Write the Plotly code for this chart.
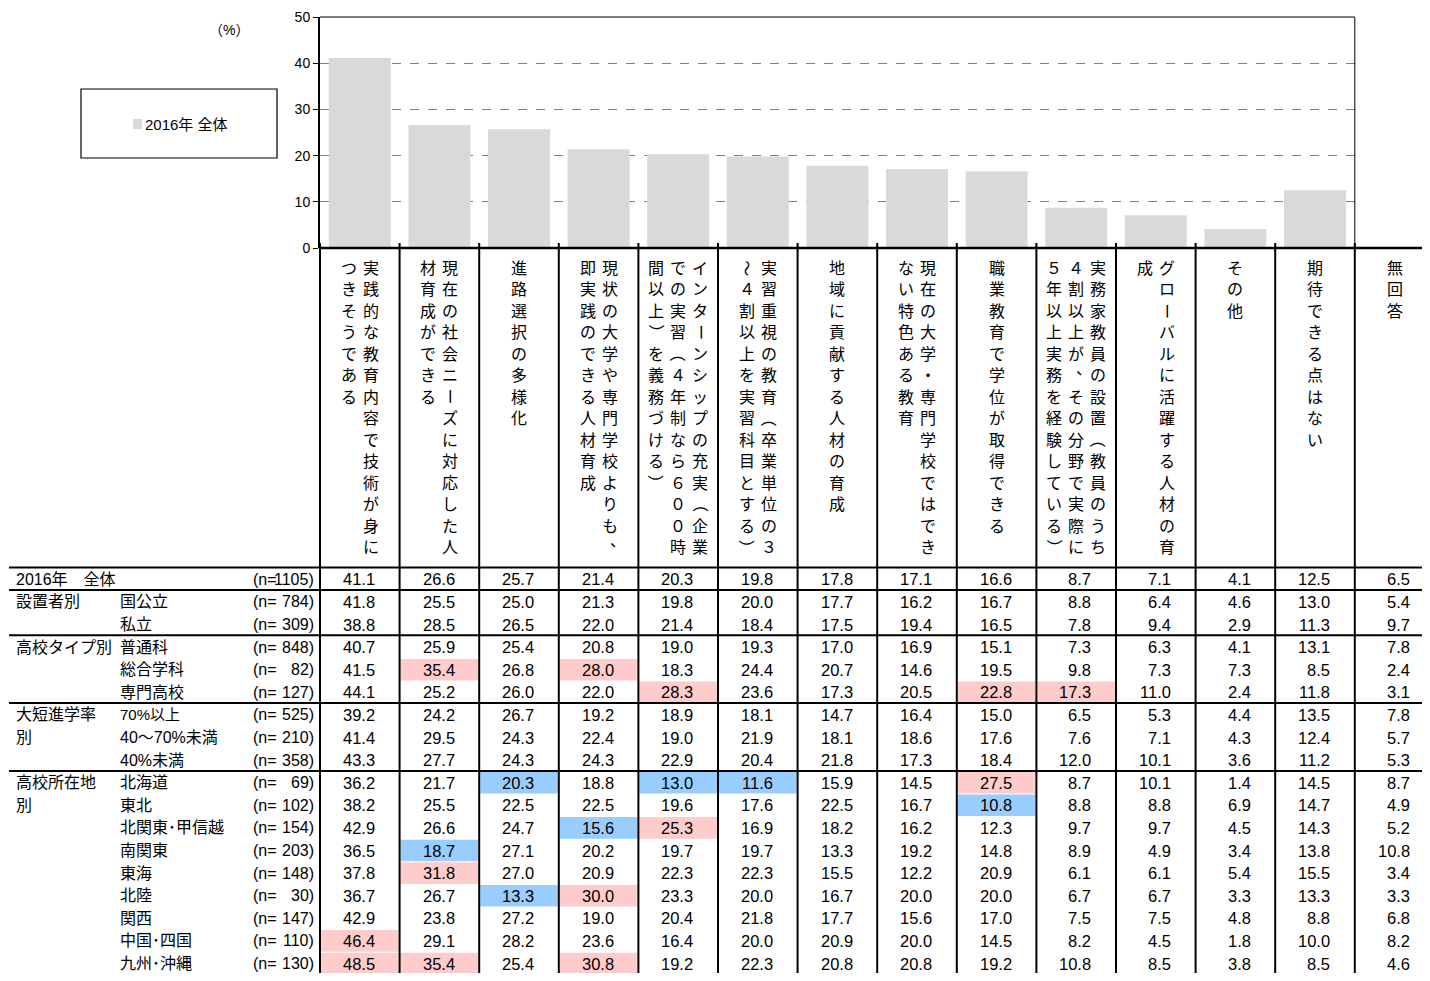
import plotly.graph_objects as go

# ---------------- data ----------------
categories = [
    "実践的な教育内容で技術が身につきそうである",
    "現在の社会ニーズに対応した人材育成ができる",
    "進路選択の多様化",
    "現状の大学や専門学校よりも、即実践のできる人材育成",
    "インターンシップの充実（企業での実習（４年制なら６００時間以上）を義務づける）",
    "実習重視の教育（卒業単位の３～４割以上を実習科目とする）",
    "地域に貢献する人材の育成",
    "現在の大学・専門学校ではできない特色ある教育",
    "職業教育で学位が取得できる",
    "実務家教員の設置（教員のうち４割以上が、その分野で実際に５年以上実務を経験している）",
    "グローバルに活躍する人材の育成",
    "その他",
    "期待できる点はない",
    "無回答",
]
series_name = "2016年 全体"
overall = [41.1, 26.6, 25.7, 21.4, 20.3, 19.8, 17.8, 17.1, 16.6, 8.7, 7.1, 4.1, 12.5, 6.5]
bar_count = 13  # 無回答 has no bar

y_ticks = [0, 10, 20, 30, 40, 50]

group_labels = ["2016年　全体", "設置者別", "", "高校タイプ別", "", "", "大短進学率", "別", "",
                "高校所在地", "別", "", "", "", "", "", "", ""]
sub_labels = ["", "国公立", "私立", "普通科", "総合学科", "専門高校", "70%以上", "40～70%未満", "40%未満",
              "北海道", "東北", "北関東･甲信越", "南関東", "東海", "北陸", "関西", "中国･四国", "九州･沖縄"]
n_values = [1105, 784, 309, 848, 82, 127, 525, 210, 358, 69, 102, 154, 203, 148, 30, 147, 110, 130]

row_全体 = overall
row_国公立 = [41.8, 25.5, 25.0, 21.3, 19.8, 20.0, 17.7, 16.2, 16.7, 8.8, 6.4, 4.6, 13.0, 5.4]
row_私立 = [38.8, 28.5, 26.5, 22.0, 21.4, 18.4, 17.5, 19.4, 16.5, 7.8, 9.4, 2.9, 11.3, 9.7]
row_普通科 = [40.7, 25.9, 25.4, 20.8, 19.0, 19.3, 17.0, 16.9, 15.1, 7.3, 6.3, 4.1, 13.1, 7.8]
row_総合学科 = [41.5, 35.4, 26.8, 28.0, 18.3, 24.4, 20.7, 14.6, 19.5, 9.8, 7.3, 7.3, 8.5, 2.4]
row_専門高校 = [44.1, 25.2, 26.0, 22.0, 28.3, 23.6, 17.3, 20.5, 22.8, 17.3, 11.0, 2.4, 11.8, 3.1]
row_70以上 = [39.2, 24.2, 26.7, 19.2, 18.9, 18.1, 14.7, 16.4, 15.0, 6.5, 5.3, 4.4, 13.5, 7.8]
row_40_70 = [41.4, 29.5, 24.3, 22.4, 19.0, 21.9, 18.1, 18.6, 17.6, 7.6, 7.1, 4.3, 12.4, 5.7]
row_40未満 = [43.3, 27.7, 24.3, 24.3, 22.9, 20.4, 21.8, 17.3, 18.4, 12.0, 10.1, 3.6, 11.2, 5.3]
row_北海道 = [36.2, 21.7, 20.3, 18.8, 13.0, 11.6, 15.9, 14.5, 27.5, 8.7, 10.1, 1.4, 14.5, 8.7]
row_東北 = [38.2, 25.5, 22.5, 22.5, 19.6, 17.6, 22.5, 16.7, 10.8, 8.8, 8.8, 6.9, 14.7, 4.9]
row_北関東 = [42.9, 26.6, 24.7, 15.6, 25.3, 16.9, 18.2, 16.2, 12.3, 9.7, 9.7, 4.5, 14.3, 5.2]
row_南関東 = [36.5, 18.7, 27.1, 20.2, 19.7, 19.7, 13.3, 19.2, 14.8, 8.9, 4.9, 3.4, 13.8, 10.8]
row_東海 = [37.8, 31.8, 27.0, 20.9, 22.3, 22.3, 15.5, 12.2, 20.9, 6.1, 6.1, 5.4, 15.5, 3.4]
row_北陸 = [36.7, 26.7, 13.3, 30.0, 23.3, 20.0, 16.7, 20.0, 20.0, 6.7, 6.7, 3.3, 13.3, 3.3]
row_関西 = [42.9, 23.8, 27.2, 19.0, 20.4, 21.8, 17.7, 15.6, 17.0, 7.5, 7.5, 4.8, 8.8, 6.8]
row_中国四国 = [46.4, 29.1, 28.2, 23.6, 16.4, 20.0, 20.9, 20.0, 14.5, 8.2, 4.5, 1.8, 10.0, 8.2]
row_九州沖縄 = [48.5, 35.4, 25.4, 30.8, 19.2, 22.3, 20.8, 20.8, 19.2, 10.8, 8.5, 3.8, 8.5, 4.6]

table_rows = [row_全体, row_国公立, row_私立, row_普通科, row_総合学科, row_専門高校,
              row_70以上, row_40_70, row_40未満, row_北海道, row_東北, row_北関東,
              row_南関東, row_東海, row_北陸, row_関西, row_中国四国, row_九州沖縄]

# (row, column) cells flagged as notably high / low
flag_high = [(4, 1), (4, 3), (5, 4), (5, 8), (5, 9), (9, 8), (11, 4), (13, 1),
             (14, 3), (16, 0), (17, 0), (17, 1), (17, 3)]
flag_low = [(9, 2), (9, 4), (9, 5), (10, 8), (11, 3), (12, 1), (14, 2)]

group_break_rows = [0, 1, 3, 6, 9]

# ---------------- layout geometry (screen pixels) ----------------
SCREEN_W, SCREEN_H = 1430, 981
OX, OY = 8, 8                      # page body margin
FW, FH = SCREEN_W - 2 * OX, SCREEN_H - 2 * OY
TBL_X0 = 320.0
COL_W = 79.6
PLOT_TOP = 17.0
AXIS_Y = 248.0
TBL_TOP = 567.5
ROW_H = 22.6
CHAR_PITCH = 21.5
SUBCOL_PITCH = 22.0
CHUNK = 14

NUM_FONT = "Liberation Sans, Arial, Noto Sans CJK JP, sans-serif"
JP_FONT = "Liberation Sans, Noto Sans CJK JP, sans-serif"
PINK = "#FFCCCC"
BLUE = "#99CCFF"
BAR = "#D9D9D9"


def X(px):
    return (px - OX) / FW


def Y(py):
    return 1 - (py - OY) / FH


def col_left(k):
    return TBL_X0 + k * COL_W


def row_top(i):
    return TBL_TOP + i * ROW_H


fig = go.Figure()
fig.add_trace(go.Bar(
    x=categories[:bar_count], y=overall[:bar_count], name=series_name,
    marker=dict(color=BAR, line=dict(width=0)), showlegend=False,
))

shapes = []
annotations = []


def ann(text, x, y, xanchor="center", size=16, font=JP_FONT, angle=0):
    annotations.append(dict(
        text=text, x=X(x), y=Y(y), xref="paper", yref="paper",
        xanchor=xanchor, yanchor="middle", showarrow=False, textangle=angle,
        font=dict(family=font, size=size, color="black"),
    ))


def line(x0, y0, x1, y1, width=2, color="black"):
    shapes.append(dict(type="line", xref="paper", yref="paper",
                       x0=X(x0), y0=Y(y0), x1=X(x1), y1=Y(y1),
                       line=dict(color=color, width=width)))


# highlight cells
for flags, color in ((flag_high, PINK), (flag_low, BLUE)):
    for (r, c) in flags:
        shapes.append(dict(type="rect", xref="paper", yref="paper", layer="below",
                           x0=X(col_left(c) + 1), x1=X(col_left(c) + COL_W - 1),
                           y0=Y(row_top(r) + 1), y1=Y(min(row_top(r + 1), SCREEN_H - OY)),
                           fillcolor=color, line=dict(width=0)))

# plot frame: top and right thin lines, bottom thick line
line(TBL_X0, PLOT_TOP, col_left(bar_count), PLOT_TOP, width=1)
line(col_left(bar_count), PLOT_TOP, col_left(bar_count), AXIS_Y, width=1)
line(TBL_X0, AXIS_Y, SCREEN_W, AXIS_Y, width=2.5)

# table vertical lines
for k in range(len(categories)):
    line(col_left(k), AXIS_Y - 5, col_left(k), SCREEN_H, width=2)

# table horizontal lines
for r in group_break_rows:
    line(9, row_top(r), SCREEN_W, row_top(r), width=2)

# vertical header text
rotate_chars = set("ー（）～〜")
for k, label in enumerate(categories):
    chunks = [label[i:i + CHUNK] for i in range(0, len(label), CHUNK)]
    n = len(chunks)
    cx = col_left(k) + COL_W / 2
    for s, chunk in enumerate(chunks):
        sx = cx + ((n - 1) / 2 - s) * SUBCOL_PITCH
        for j, ch in enumerate(chunk):
            cy = 268 + j * CHAR_PITCH
            angle = 90 if ch in rotate_chars else 0
            dx, dy = 0, 0
            if ch in "、，":
                dx, dy = 8, -7
            ann(ch, sx + dx, cy + dy, size=16, angle=angle)

# row labels and values
for i, row in enumerate(table_rows):
    cy = row_top(i) + ROW_H / 2 + 0.5
    if group_labels[i]:
        ann(group_labels[i], 14, cy, xanchor="left", size=16)
    if sub_labels[i]:
        ann(sub_labels[i], 118, cy, xanchor="left", size=15 if "70%以上" == sub_labels[i] else 16)
    ann("(n=", 251, cy, xanchor="left", size=16, font=NUM_FONT)
    ann(f"{n_values[i]})", 316, cy, xanchor="right", size=16, font=NUM_FONT)
    for c, v in enumerate(row):
        ann(f"{v:.1f}", col_left(c) + 57, cy, xanchor="right", size=16.5, font=NUM_FONT)

# "(%)" unit label
ann("（%）", 229, 30, size=14)

# legend box
shapes.append(dict(type="rect", xref="paper", yref="paper", x0=X(81), x1=X(277), y0=Y(89), y1=Y(158),
                   line=dict(color="black", width=1.2), fillcolor="white"))
shapes.append(dict(type="rect", xref="paper", yref="paper", x0=X(133), x1=X(142), y0=Y(119), y1=Y(129),
                   line=dict(width=0), fillcolor=BAR))
ann(series_name, 143, 124, xanchor="left", size=15)

fig.update_layout(
    width=FW, height=FH,
    margin=dict(l=0, r=0, t=0, b=0, pad=0, autoexpand=False),
    paper_bgcolor="white", plot_bgcolor="white",
    bargap=1 - 62 / COL_W,
    xaxis=dict(domain=[X(TBL_X0), X(col_left(bar_count))], range=[-0.5, bar_count - 0.5],
               showticklabels=False, ticks="", showgrid=False, zeroline=False, showline=False,
               fixedrange=True, automargin=False),
    yaxis=dict(domain=[Y(AXIS_Y), Y(PLOT_TOP)], range=[0, 50], tickvals=y_ticks,
               ticks="outside", ticklen=5, tickcolor="black", tickwidth=1,
               showline=True, linecolor="black", linewidth=2,
               showgrid=True, gridcolor="#808080", gridwidth=1, griddash="dash",
               zeroline=False, tickfont=dict(family=NUM_FONT, size=14, color="black"),
               fixedrange=True, automargin=False),
    shapes=shapes,
    annotations=annotations,
    font=dict(family=JP_FONT),
)

fig.write_html("out.html")
